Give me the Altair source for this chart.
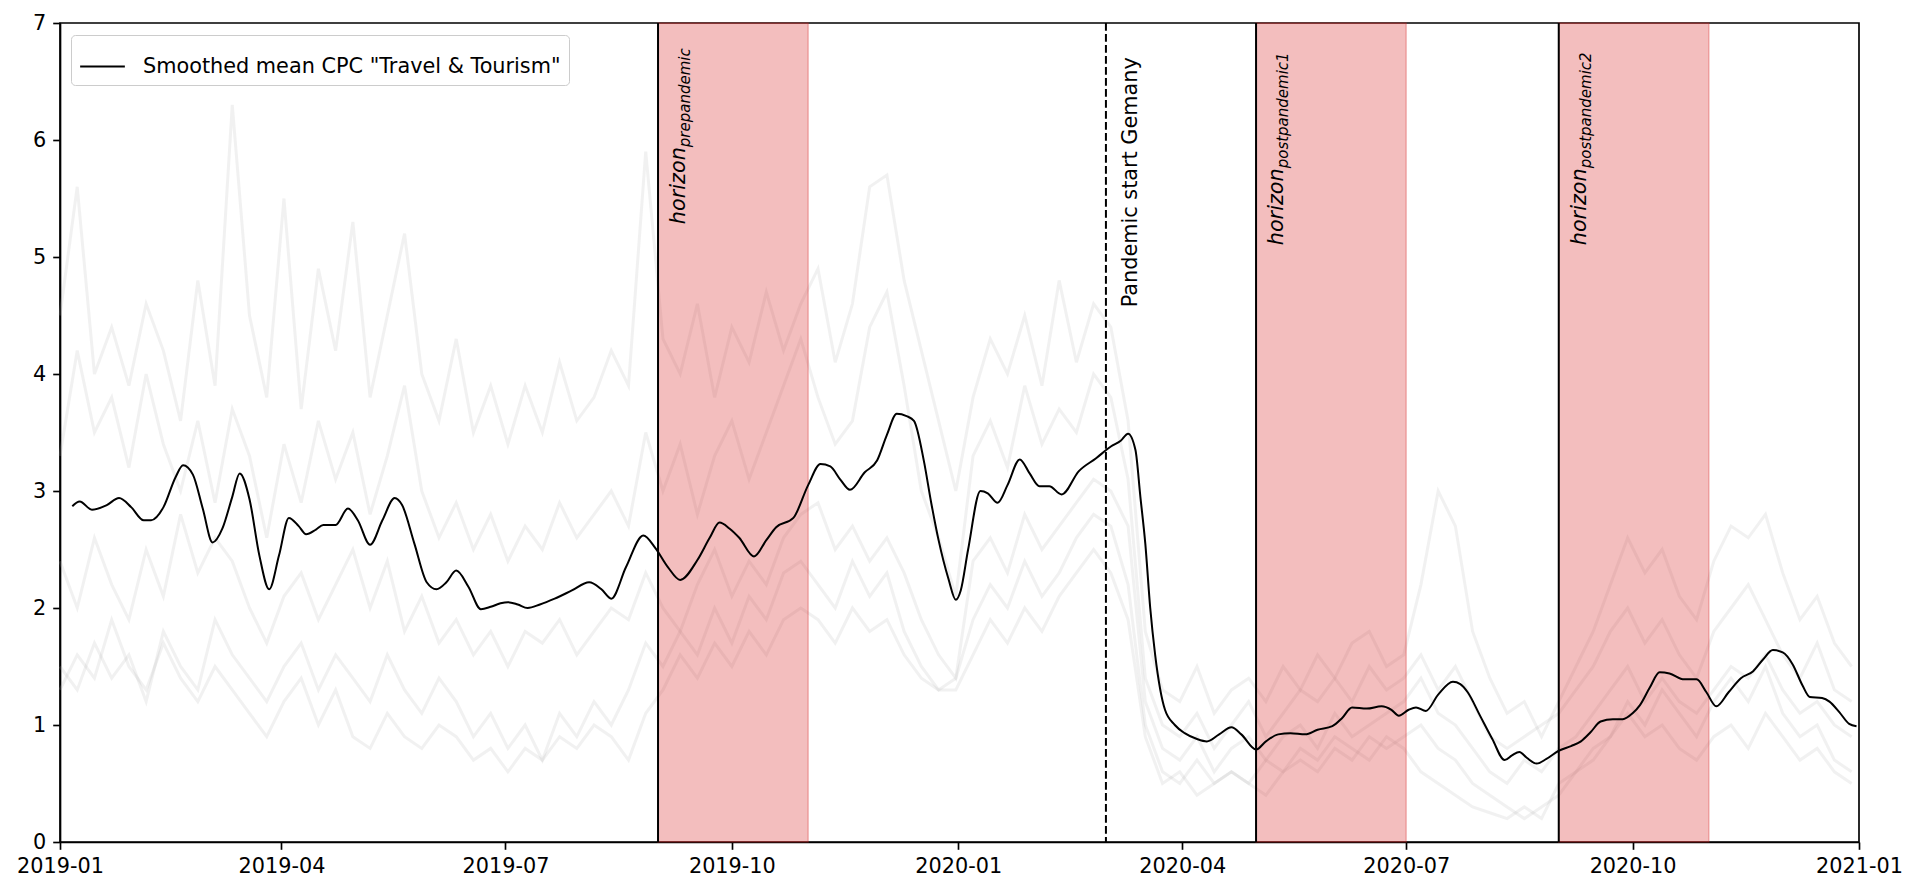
import altair as alt
import pandas as pd

# ---------------- data ----------------
# smoothed mean: day offset from 2019-01-01 and value
smooth_day = [5, 8, 13, 19, 24, 29, 34, 37, 42, 47, 50, 54, 58, 62, 66, 70, 73, 77, 81, 85,
              89, 93, 97, 100, 104, 107, 112, 117, 121, 126, 131, 136, 139, 144, 149, 153, 157, 161, 166, 171,
              175, 179, 182, 186, 190, 195, 201, 208, 215, 220, 224, 230, 237, 242, 247, 252, 259, 264, 268, 272,
              276, 282, 287, 291, 298, 304, 309, 313, 317, 321, 327, 332, 336, 340, 344, 347, 351, 354, 357, 361,
              364, 366, 369, 374, 377, 381, 385, 390, 394, 398, 402, 407, 414, 421, 427, 431, 434, 437, 439, 441,
              443, 445, 449, 453, 457, 462, 466, 471, 476, 480, 486, 490, 495, 500, 506, 511, 517, 521, 525, 531,
              537, 541, 544, 548, 551, 555, 560, 566, 569, 572, 577, 582, 587, 590, 593, 596, 600, 604, 609, 614,
              618, 622, 626, 631, 635, 639, 642, 646, 650, 654, 660, 665, 669, 673, 678, 683, 688, 692, 696, 700,
              704, 708, 711, 716, 719, 723, 727, 730]
smooth_val = [2.87, 2.91, 2.84, 2.88, 2.94, 2.86, 2.75, 2.75, 2.86, 3.12, 3.22, 3.14, 2.85, 2.56, 2.68, 2.95, 3.15, 2.93, 2.45, 2.16,
              2.45, 2.77, 2.70, 2.63, 2.67, 2.71, 2.71, 2.85, 2.75, 2.54, 2.75, 2.94, 2.88, 2.55, 2.22, 2.16, 2.22, 2.32, 2.18, 1.99,
              2.01, 2.04, 2.05, 2.03, 2.00, 2.03, 2.08, 2.15, 2.22, 2.16, 2.08, 2.35, 2.62, 2.51, 2.35, 2.24, 2.41, 2.60, 2.73, 2.68,
              2.60, 2.44, 2.58, 2.69, 2.77, 3.05, 3.23, 3.21, 3.10, 3.01, 3.16, 3.26, 3.48, 3.66, 3.64, 3.60, 3.26, 2.90, 2.58, 2.25,
              2.07, 2.15, 2.50, 3.00, 2.98, 2.90, 3.05, 3.27, 3.15, 3.04, 3.04, 2.97, 3.17, 3.28, 3.38, 3.43, 3.49, 3.35, 2.95, 2.55,
              2.00, 1.60, 1.13, 1.00, 0.93, 0.88, 0.86, 0.92, 0.98, 0.92, 0.79, 0.86, 0.92, 0.93, 0.92, 0.96, 0.99, 1.06, 1.15, 1.14,
              1.16, 1.13, 1.08, 1.13, 1.15, 1.12, 1.26, 1.37, 1.35, 1.28, 1.08, 0.88, 0.70, 0.74, 0.77, 0.72, 0.67, 0.71, 0.78, 0.82,
              0.86, 0.94, 1.03, 1.05, 1.05, 1.10, 1.17, 1.32, 1.45, 1.44, 1.39, 1.39, 1.28, 1.16, 1.28, 1.40, 1.46, 1.56, 1.64, 1.62,
              1.52, 1.34, 1.24, 1.23, 1.20, 1.11, 1.01, 0.99]

# individual (raw) CPC series, weekly readings starting 2019-01-01
grey_s1 = [4.5, 5.6, 4.0, 4.4, 3.9, 4.6, 4.2, 3.6, 4.8, 3.9, 6.3, 4.5, 3.8,
           5.5, 3.7, 4.9, 4.2, 5.3, 3.8, 4.5, 5.2, 4.0, 3.6, 4.3, 3.5, 3.9,
           3.4, 3.9, 3.5, 4.1, 3.6, 3.8, 4.2, 3.9, 5.9,
           4.3, 4.0, 4.6, 3.8, 4.4, 4.1, 4.7, 4.2, 4.6,
           4.9, 4.1, 4.6, 5.6, 5.7, 4.8, 4.2, 3.6,
           3.0, 3.8, 4.3, 4.0, 4.5, 3.9, 4.8, 4.1, 4.6,
           4.4, 3.6, 1.8,
           1.3, 1.2, 1.5, 1.1, 1.3, 1.4, 1.2, 1.5, 1.3, 1.6, 1.4, 1.7, 1.8, 1.5,
           1.6, 2.2, 3.0, 2.7, 1.8, 1.4, 1.1, 1.2, 0.9,
           1.2, 1.5, 1.8, 2.2, 2.6, 2.3, 2.5, 2.1, 1.9,
           2.4, 2.7, 2.6, 2.8, 2.3, 1.9, 2.1, 1.7, 1.5]
grey_s2 = [3.3, 4.2, 3.5, 3.8, 3.2, 4.0, 3.4, 3.0, 3.6, 2.9, 3.7, 3.3, 2.6,
           3.4, 2.9, 3.6, 3.1, 3.5, 2.8, 3.3, 3.9, 3.0, 2.6, 2.9, 2.5, 2.8,
           2.4, 2.7, 2.5, 2.9, 2.6, 2.8, 3.0, 2.7, 3.5,
           3.0, 3.4, 2.8, 3.3, 3.6, 3.1, 3.5, 3.9, 4.3,
           3.8, 3.4, 3.6, 4.4, 4.7, 3.9, 3.0, 2.6,
           2.1, 3.3, 3.6, 3.2, 3.9, 3.4, 3.7, 3.5, 4.0,
           3.8, 3.1, 1.4,
           1.0, 0.9, 1.1, 0.8, 1.0, 1.2, 0.9, 1.1, 1.3, 1.2, 1.4, 1.2, 1.5, 1.3,
           1.4, 1.6, 1.3, 1.5, 1.2, 0.9, 0.8, 0.9, 1.0,
           1.1, 1.3, 1.5, 1.8, 2.0, 1.7, 1.9, 1.6, 1.4,
           1.8, 2.0, 2.2, 1.9, 1.6, 1.4, 1.7, 1.3, 1.2]
grey_s3 = [2.4, 2.0, 2.6, 2.2, 1.9, 2.5, 2.1, 2.8, 2.3, 2.6, 2.4, 2.0, 1.7,
           2.1, 2.3, 1.9, 2.2, 2.5, 2.0, 2.4, 1.8, 2.1, 1.7, 1.9, 1.6, 1.8,
           1.5, 1.8, 1.7, 1.9, 1.6, 1.8, 2.0, 1.9, 2.3,
           2.0, 1.8, 2.2, 2.5, 2.1, 2.4, 2.2, 2.6, 2.8,
           2.9, 2.5, 2.7, 2.4, 2.6, 2.3, 1.9, 1.6,
           1.4, 2.4, 2.6, 2.3, 2.8, 2.5, 2.7, 2.9, 3.1,
           3.0, 2.7, 1.2,
           0.8, 0.7, 0.9, 0.6, 0.8, 0.9, 0.7, 0.9, 1.0, 0.8, 1.1, 0.9, 1.0, 1.1,
           1.2, 1.4, 1.1, 1.0, 0.8, 0.6, 0.5, 0.7, 0.6,
           0.8, 0.9, 1.1, 1.3, 1.5, 1.2, 1.4, 1.2, 1.1,
           1.3, 1.5, 1.4, 1.6, 1.3, 1.1, 1.2, 1.0, 0.9]
grey_s4 = [1.5, 1.3, 1.7, 1.4, 1.6, 1.2, 1.8, 1.5, 1.3, 1.9, 1.6, 1.4, 1.2,
           1.5, 1.7, 1.3, 1.6, 1.4, 1.2, 1.6, 1.3, 1.1, 1.4, 1.2, 0.9, 1.1,
           0.8, 1.0, 0.7, 1.1, 0.9, 1.2, 1.0, 1.3, 1.7,
           1.5, 1.8, 1.6, 2.0, 1.7, 2.1, 1.9, 2.3, 2.4,
           2.2, 2.0, 2.4, 2.1, 2.3, 1.8, 1.5, 1.3,
           1.4, 1.9, 2.2, 2.0, 2.4, 2.1, 2.3, 2.6, 2.8,
           2.7, 2.2, 1.0,
           0.6, 0.5, 0.7, 0.5, 0.6, 0.5, 0.7, 0.6, 0.8, 0.7, 0.9, 0.8, 0.7, 0.9,
           0.8, 0.6, 0.5, 0.4, 0.3, 0.25, 0.2, 0.3, 0.2,
           0.5, 0.6, 0.8, 0.9, 1.1, 0.9, 1.0, 0.8, 0.7,
           0.9, 1.0, 0.8, 1.1, 0.9, 0.7, 0.8, 0.6, 0.5]
grey_s5 = [1.3, 1.6, 1.4, 1.9, 1.5, 1.3, 1.7, 1.4, 1.2, 1.5, 1.3, 1.1, 0.9,
           1.2, 1.4, 1.0, 1.3, 0.9, 0.8, 1.1, 0.9, 0.8, 1.0, 0.9, 0.7, 0.8,
           0.6, 0.8, 0.7, 0.9, 0.8, 1.0, 0.9, 0.7, 1.1,
           1.3, 1.6, 1.4, 1.7, 1.5, 1.8, 1.6, 1.9, 2.0,
           1.9, 1.7, 2.0, 1.8, 1.9, 1.6, 1.4, 1.3,
           1.3, 1.6, 1.9, 1.7, 2.0, 1.8, 2.1, 2.3, 2.5,
           2.3, 1.9, 0.9,
           0.5, 0.6, 0.4, 0.5, 0.6, 0.5, 0.4, 0.6, 0.7, 0.6, 0.8, 0.7, 0.9, 0.8,
           0.9, 1.0, 0.8, 0.7, 0.5, 0.4, 0.3, 0.2, 0.3,
           0.4, 0.6, 0.7, 0.9, 1.2, 1.0, 1.3, 1.1, 0.9,
           1.2, 1.4, 1.2, 1.5, 1.1, 0.9, 1.0, 0.7, 0.6]

band_start = ["2019-09-01", "2020-05-01", "2020-09-01"]
band_end = ["2019-11-01", "2020-07-01", "2020-11-01"]
band_sub = ["prepandemic", "postpandemic1", "postpandemic2"]
pandemic_date = "2020-03-01"
x_ticks = ["2019-01", "2019-04", "2019-07", "2019-10", "2020-01",
           "2020-04", "2020-07", "2020-10", "2021-01"]
y_ticks = [0, 1, 2, 3, 4, 5, 6, 7]
legend_label = 'Smoothed mean CPC "Travel & Tourism"'

# ---------------- tables ----------------
base = pd.Timestamp("2019-01-01")
smooth_df = pd.DataFrame({
    "date": [(base + pd.Timedelta(days=d)).strftime("%Y-%m-%d") for d in smooth_day],
    "value": smooth_val,
    "label": legend_label,
})

weeks = pd.date_range("2019-01-01", periods=105, freq="7D").strftime("%Y-%m-%d")
rows = []
for name, vals in [("s1", grey_s1), ("s2", grey_s2), ("s3", grey_s3), ("s4", grey_s4), ("s5", grey_s5)]:
    for d, v in zip(weeks, vals):
        rows.append({"date": d, "value": v, "series": name})
grey_df = pd.DataFrame(rows)

bands_df = pd.DataFrame({"start": band_start, "end": band_end, "sub": band_sub,
                         "main": ["horizon"] * 3, "ypos": [5.28, 5.10, 5.10]})
pand_df = pd.DataFrame({"date": [pandemic_date], "ypos": [4.57], "t": ["Pandemic start Gemany"]})

FONT = "DejaVu Sans"
xscale = alt.Scale(type="utc", domain=[alt.DateTime(year=2019, month=1, date=1, utc=True),
                                       alt.DateTime(year=2021, month=1, date=1, utc=True)])
yscale = alt.Scale(domain=[0, 7], nice=False)

xaxis = alt.Axis(values=[alt.DateTime(year=int(t[:4]), month=int(t[5:]), date=1, utc=True) for t in x_ticks],
                 format="%Y-%m", title=None, labelFlush=False, labelOverlap=False, grid=False)
yaxis = alt.Axis(values=y_ticks, format="d", title=None, grid=False)

grey = alt.Chart(grey_df).mark_line(strokeWidth=3, color="#b0b0b0", opacity=0.18).encode(
    x=alt.X("date:T", scale=xscale, axis=xaxis),
    y=alt.Y("value:Q", scale=yscale, axis=yaxis),
    detail="series:N",
)

bands = alt.Chart(bands_df).mark_rect(fill="#d62728", fillOpacity=0.3, stroke="#d62728",
                                      strokeOpacity=0.3, strokeWidth=1.5).encode(
    x=alt.X("start:T", scale=xscale), x2="end:T"
)

band_rules = alt.Chart(bands_df).mark_rule(color="black", strokeWidth=2).encode(
    x=alt.X("start:T", scale=xscale)
)

pand_rule = alt.Chart(pand_df).mark_rule(color="black", strokeWidth=2, strokeDash=[7.7, 3.3]).encode(
    x=alt.X("date:T", scale=xscale)
)

smooth = alt.Chart(smooth_df).mark_line(strokeWidth=2, interpolate="monotone").encode(
    x=alt.X("date:T", scale=xscale),
    y=alt.Y("value:Q", scale=yscale),
    stroke=alt.Stroke("label:N", scale=alt.Scale(range=["black"]),
                      legend=alt.Legend(title=None, orient="none", legendX=11, legendY=12,
                                        symbolType="stroke", symbolSize=2000, symbolStrokeWidth=2,
                                        labelFont=FONT, labelFontSize=20.8, labelColor="black",
                                        labelOffset=17, padding=8, strokeColor="#cccccc",
                                        fillColor="white", cornerRadius=4, labelLimit=1000)),
)

pand_text = alt.Chart(pand_df).mark_text(angle=270, align="left", baseline="alphabetic", dy=31,
                                         font=FONT, fontSize=20.8, color="black").encode(
    x=alt.X("date:T", scale=xscale), y=alt.Y("ypos:Q", scale=yscale), text="t:N"
)

main_text = alt.Chart(bands_df).mark_text(angle=270, align="left", baseline="alphabetic", dy=27,
                                          font=FONT, fontSize=20.8, fontStyle="italic",
                                          color="black").encode(
    x=alt.X("start:T", scale=xscale), y=alt.Y("ypos:Q", scale=yscale), text="main:N"
)

sub_text = alt.Chart(bands_df).mark_text(angle=270, align="left", baseline="alphabetic", dx=77, dy=32,
                                         font=FONT, fontSize=15, fontStyle="italic",
                                         color="black").encode(
    x=alt.X("start:T", scale=xscale), y=alt.Y("ypos:Q", scale=yscale), text="sub:N"
)

chart = alt.layer(grey, bands, band_rules, pand_rule, smooth, pand_text, main_text, sub_text).properties(
    width=1799, height=819,
    padding={"left": 52, "top": 15, "right": 53, "bottom": 40},
    autosize=alt.AutoSizeParams(type="none"),
).configure_view(stroke="black", strokeWidth=1.67).configure_axis(
    domainColor="black", domainWidth=1.67, tickColor="black", tickWidth=1.67, tickSize=7.3,
    labelColor="black", labelFont=FONT, labelFontSize=20.8, labelPadding=7,
)

chart.save("out.html", embed_options={"renderer": "svg", "actions": False})
